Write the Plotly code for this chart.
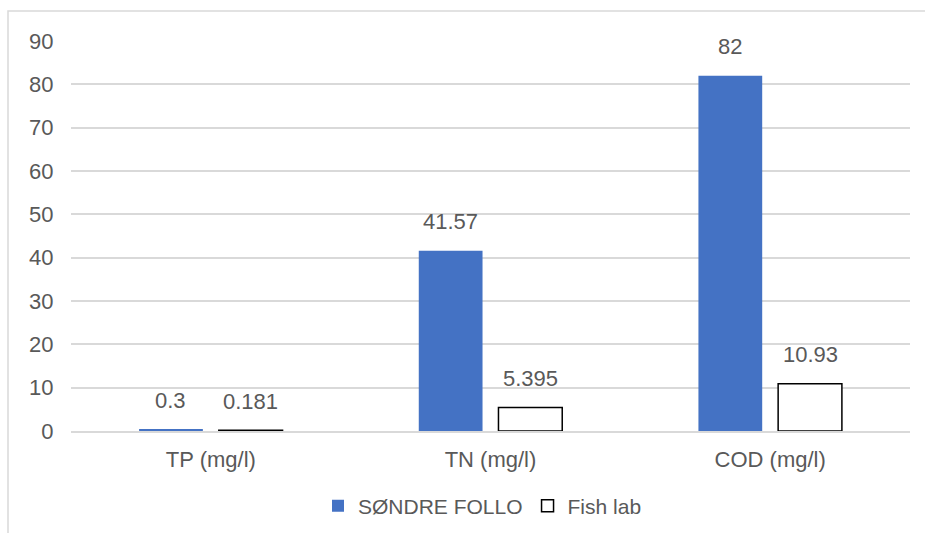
import plotly.graph_objects as go

categories = ["TP (mg/l)", "TN (mg/l)", "COD (mg/l)"]
sondre_follo = [0.3, 41.57, 82]
fish_lab = [0.181, 5.395, 10.93]
sondre_labels = ["0.3", "41.57", "82"]
fish_labels = ["0.181", "5.395", "10.93"]
y_ticks = [0, 10, 20, 30, 40, 50, 60, 70, 80, 90]

FONT = "Liberation Sans, Arial, sans-serif"
TEXT_GREY = "#595959"
GRID = "#d9d9d9"
BLUE = "#4472c4"

W, H = 925, 533
L, R, T, B = 71, 15, 41, 102

fig = go.Figure()
fig.add_trace(go.Bar(
    name="SØNDRE FOLLO", x=categories, y=sondre_follo,
    marker=dict(color=BLUE, line=dict(width=0)),
))
fig.add_trace(go.Bar(
    name="Fish lab", x=categories, y=fish_lab,
    marker=dict(color="white", line=dict(color="black", width=1.5)),
))

# value labels above each bar
annotations = []
for vals, labels, shift in ((sondre_follo, sondre_labels, -40), (fish_lab, fish_labels, 40)):
    for cat, v, lab in zip(categories, vals, labels):
        annotations.append(dict(
            x=cat, y=v, xref="x", yref="y", text=lab, showarrow=False,
            xshift=shift, yshift=29, yanchor="middle",
            font=dict(family=FONT, size=22, color=TEXT_GREY),
        ))

plot_w = W - L - R
plot_h = H - T - B
# light outer frame around the chart
shapes = [dict(
    type="rect", xref="paper", yref="paper",
    x0=(8 - L) / plot_w, x1=(W + 20 - L) / plot_w,
    y0=-(H + 20 - T - plot_h) / plot_h, y1=(T + plot_h - 11) / plot_h,
    line=dict(color=GRID, width=1.5), fillcolor="rgba(0,0,0,0)", layer="below",
)]

fig.update_layout(
    width=W, height=H,
    margin=dict(l=L, r=R, t=T, b=B, pad=0, autoexpand=False),
    paper_bgcolor="white", plot_bgcolor="white",
    barmode="group", bargap=0.43, bargroupgap=0.2,
    font=dict(family=FONT, size=22, color=TEXT_GREY),
    showlegend=True,
    legend=dict(
        orientation="h", x=(318 - L) / plot_w, xanchor="left",
        y=-(506 - T - plot_h) / plot_h, yanchor="middle",
        font=dict(family=FONT, size=21, color=TEXT_GREY),
        itemwidth=30, traceorder="normal",
    ),
    annotations=annotations,
    shapes=shapes,
    xaxis=dict(
        showgrid=False, showline=True, linecolor=GRID, linewidth=1.5,
        ticks="outside", ticklen=8, tickcolor="rgba(0,0,0,0)",
        tickfont=dict(family=FONT, size=22, color=TEXT_GREY),
    ),
    yaxis=dict(
        range=[0, 90], tickvals=y_ticks, showgrid=True, gridcolor=GRID, gridwidth=1.5,
        zeroline=False, showline=False, ticks="outside", ticklen=12,
        tickcolor="rgba(0,0,0,0)",
        tickfont=dict(family=FONT, size=22, color=TEXT_GREY),
    ),
)

fig.write_html("out.html")
